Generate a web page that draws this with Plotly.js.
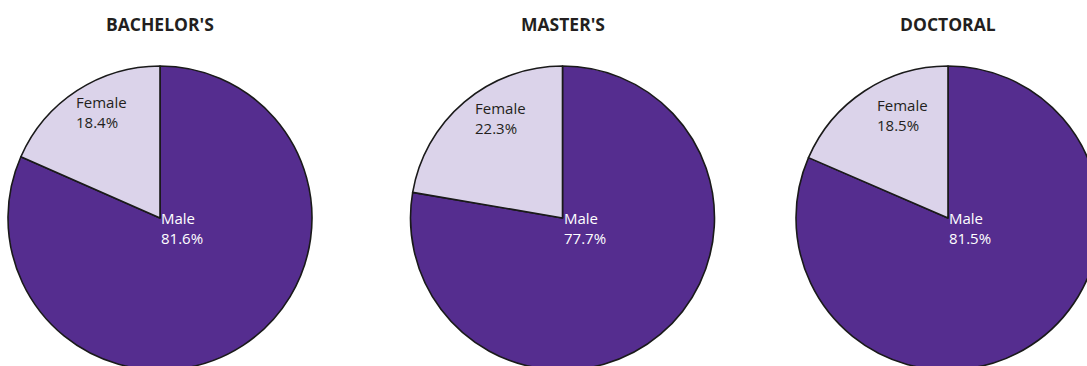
<!DOCTYPE html>
<html>
<head>
<meta charset="utf-8">
<script src="https://cdn.plot.ly/plotly-3.0.1.min.js"></script>
<style>
html,body{margin:0;padding:0;overflow:hidden;background:#fff;}
#chart{width:1110px;height:380px;}
</style>
</head>
<body>
<div id="chart"></div>
<script>
const degrees = ["BACHELOR'S", "MASTER'S", "DOCTORAL"];
const genders = ["Male", "Female"];
const maleShare = [81.6, 77.7, 81.5];
const femaleShare = [18.4, 22.3, 18.5];

const W = 1110, H = 380;
const pieLeft = [8, 410.5, 796];
const pieSize = 304;
const pieTop = 66;
const femaleLabelDx = [-86, -89, -73];
const femaleLabelTop = [90, 96, 93];
const colors = ["#552d8f", "#dbd3ea"];

const traces = [];
const annotations = [];
degrees.forEach((d, i) => {
  const x0 = pieLeft[i], x1 = x0 + pieSize;
  const cx = (x0 + x1) / 2;
  traces.push({
    type: "pie",
    labels: genders,
    values: [maleShare[i], femaleShare[i]],
    sort: false,
    direction: "clockwise",
    rotation: 0,
    textinfo: "none",
    hoverinfo: "label+percent",
    marker: {colors: colors, line: {color: "#1a1a1a", width: 1.6}},
    domain: {x: [x0 / W, x1 / W], y: [1 - (pieTop + pieSize) / H, 1 - pieTop / H]},
    showlegend: false
  });
  annotations.push({
    text: "<b>" + d + "</b>", xref: "paper", yref: "paper",
    x: cx / W, y: 1 - 24 / H, xanchor: "center", yanchor: "middle",
    showarrow: false, font: {family: "Open Sans, sans-serif", size: 17.5, color: "#231f20", weight: 800}
  });
  annotations.push({
    text: genders[0] + "<br>" + maleShare[i].toFixed(1) + "%", xref: "paper", yref: "paper",
    x: (cx - 1) / W, y: 1 - 206 / H, xanchor: "left", yanchor: "top", align: "left",
    showarrow: false, font: {family: "Open Sans, sans-serif", size: 15, color: "#ffffff"}
  });
  annotations.push({
    text: genders[1] + "<br>" + femaleShare[i].toFixed(1) + "%", xref: "paper", yref: "paper",
    x: (cx + femaleLabelDx[i]) / W, y: 1 - femaleLabelTop[i] / H, xanchor: "left", yanchor: "top", align: "left",
    showarrow: false, font: {family: "Open Sans, sans-serif", size: 15, color: "#231f20"}
  });
});

Plotly.newPlot("chart", traces, {
  width: W, height: H,
  margin: {l: 0, r: 0, t: 0, b: 0},
  paper_bgcolor: "#ffffff",
  annotations: annotations
}, {displayModeBar: false, staticPlot: true});
</script>
</body>
</html>
